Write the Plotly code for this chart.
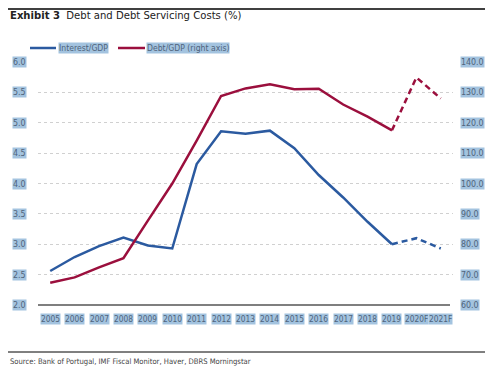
import plotly.graph_objects as go

years = ["2005", "2006", "2007", "2008", "2009", "2010", "2011", "2012", "2013",
         "2014", "2015", "2016", "2017", "2018", "2019", "2020F", "2021F"]
interest_gdp = [2.56, 2.79, 2.97, 3.11, 2.98, 2.93, 4.32, 4.86, 4.82, 4.87,
                4.58, 4.14, 3.77, 3.37, 3.00, 3.10, 2.93]
debt_gdp = [67.3, 69.1, 72.4, 75.4, 87.8, 100.0, 114.1, 128.8, 131.3, 132.7,
            131.0, 131.2, 126.0, 122.0, 117.5, 134.9, 128.0]
left_ticks = [2.0, 2.5, 3.0, 3.5, 4.0, 4.5, 5.0, 5.5, 6.0]
right_ticks = [60, 70, 80, 90, 100, 110, 120, 130, 140]
n_actual = 15  # through 2019

BLUE = "#2b5aa0"
RED = "#9b0f3d"
HL = "#a3c3df"
TXT = "#4f647c"
FONT = "Liberation Sans Narrow, DejaVu Sans Condensed, sans-serif"

W, H = 499, 370
OFF = 8  # page body offset
SL, SR, ST, SB = 38, 453, 62, 305
L = SL - OFF
T = ST - OFF
R = W - (SR - OFF)
B = H - (SB - OFF)

def fx(xs):
    return (xs - SL) / (SR - SL)

def fy(ys):
    return (SB - ys) / (SB - ST)

fig = go.Figure()

def split(vals):
    solid = [v if i < n_actual else None for i, v in enumerate(vals)]
    dashed = [v if i >= n_actual - 1 else None for i, v in enumerate(vals)]
    return solid, dashed

i_s, i_d = split(interest_gdp)
d_s, d_d = split(debt_gdp)

fig.add_trace(go.Scatter(x=years, y=i_s, mode="lines", line=dict(color=BLUE, width=2.5),
                         showlegend=False, yaxis="y"))
fig.add_trace(go.Scatter(x=years, y=i_d, mode="lines", line=dict(color=BLUE, width=2.5, dash="6px,4px"),
                         showlegend=False, yaxis="y"))
fig.add_trace(go.Scatter(x=years, y=d_s, mode="lines", line=dict(color=RED, width=2.5),
                         showlegend=False, yaxis="y2"))
fig.add_trace(go.Scatter(x=years, y=d_d, mode="lines", line=dict(color=RED, width=2.5, dash="6px,4px"),
                         showlegend=False, yaxis="y2"))

x_font = dict(family=FONT, size=8.3, color=TXT)
y_font = dict(family=FONT, size=8.8, color=TXT)
leg_font = dict(family=FONT, size=8.6, color=TXT)
annotations = []
for i, yr in enumerate(years):
    annotations.append(dict(x=i, xref="x", y=fy(319), yref="paper", yanchor="middle", xanchor="center",
                            text=yr, showarrow=False, bgcolor=HL, borderpad=0, font=x_font))
for t in left_ticks:
    annotations.append(dict(x=fx(27), xref="paper", xanchor="right", y=t, yref="y", yanchor="middle",
                            text=f"{t:.1f}", showarrow=False, bgcolor=HL, borderpad=0, font=y_font))
for t in right_ticks:
    annotations.append(dict(x=fx(460), xref="paper", xanchor="left", y=t, yref="y2", yanchor="middle",
                            text=f"{t:.1f}", showarrow=False, bgcolor=HL, borderpad=0, font=y_font))

shapes = []
legend_items = [("Interest/GDP", BLUE, 30, 56, 58), ("Debt/GDP (right axis)", RED, 118, 145, 146)]
for label, col, x0, x1, xt in legend_items:
    shapes.append(dict(type="line", xref="paper", yref="paper", x0=fx(x0), x1=fx(x1),
                       y0=fy(48), y1=fy(48), line=dict(color=col, width=2.5)))
    annotations.append(dict(x=fx(xt), xref="paper", xanchor="left", y=fy(48), yref="paper", yanchor="middle",
                            text=label, showarrow=False, bgcolor=HL, borderpad=0, font=leg_font))

shapes.append(dict(type="line", xref="paper", yref="paper", x0=0, x1=fx(450), y0=0, y1=0,
                   line=dict(color="black", width=1.2)))
shapes.append(dict(type="line", xref="paper", yref="paper", x0=fx(8), x1=fx(485), y0=fy(9), y1=fy(9),
                   line=dict(color="black", width=1.5)))
shapes.append(dict(type="line", xref="paper", yref="paper", x0=fx(8), x1=fx(485), y0=fy(352), y1=fy(352),
                   line=dict(color="black", width=1)))

annotations.append(dict(x=fx(8), xref="paper", xanchor="left", y=fy(15), yref="paper", yanchor="middle",
                        text="<b>Exhibit 3</b>  Debt and Debt Servicing Costs (%)", showarrow=False,
                        font=dict(family=FONT, size=11.2, color="#222222")))
annotations.append(dict(x=fx(8), xref="paper", xanchor="left", y=fy(361), yref="paper", yanchor="middle",
                        text="Source: Bank of Portugal, IMF Fiscal Monitor, Haver, DBRS Morningstar",
                        showarrow=False, font=dict(family=FONT, size=7.6, color="#444444")))

fig.update_layout(
    width=W, height=H,
    margin=dict(l=L, r=R, t=T, b=B, pad=0),
    paper_bgcolor="white", plot_bgcolor="white",
    font=dict(family=FONT, size=10, color=TXT),
    xaxis=dict(type="category", range=[-0.5, 16.5], showticklabels=False, showgrid=False,
               ticks="", showline=False, zeroline=False),
    yaxis=dict(range=[2, 6], tickvals=left_ticks, showticklabels=False, showgrid=True,
               gridcolor="#d0d0d0", griddash="dot", gridwidth=1, zeroline=False, ticks=""),
    yaxis2=dict(range=[60, 140], tickvals=right_ticks, overlaying="y", side="right",
                showticklabels=False, showgrid=False, zeroline=False, ticks=""),
    showlegend=False,
    annotations=annotations, shapes=shapes,
)
fig.write_html("out.html")
